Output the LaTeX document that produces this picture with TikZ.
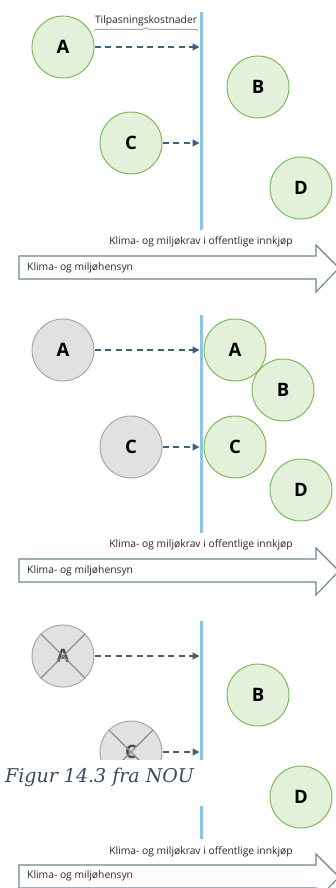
\documentclass[tikz,border=0pt]{standalone}
\usepackage{fontspec}
\setsansfont{Open Sans}
\newfontfamily\capfont{DejaVu Serif}
\usetikzlibrary{arrows.meta,decorations.pathreplacing}
\definecolor{grnfill}{HTML}{E3F1DA}
\definecolor{grnline}{HTML}{7DBA5B}
\definecolor{gryfill}{HTML}{E1E1E1}
\definecolor{gryline}{HTML}{A8A8A8}
\definecolor{wallblue}{HTML}{8DC3E6}
\definecolor{dashblue}{HTML}{3E617C}
\definecolor{bigarrow}{HTML}{6C8596}
\definecolor{captext}{HTML}{3A4A60}
\begin{document}
\begin{tikzpicture}[x=1pt,y=-1pt,
  firm/.style={circle,minimum size=62pt,inner sep=0pt,line width=1pt,
    font=\sffamily\bfseries\fontsize{18.5}{18.5}\selectfont},
  green firm/.style={firm,draw=grnline,fill=grnfill},
  grey firm/.style={firm,draw=gryline,fill=gryfill},
  wall/.style={wallblue,line width=3pt},
  move/.style={dashblue,line width=1.4pt,dash pattern=on 6pt off 4.5pt,
    -{Triangle[length=7pt,width=7pt]},shorten >=1.5pt},
  cross/.style={gryline!85!black,line width=1.3pt},
  label text/.style={text=black!85,font=\sffamily\fontsize{10.3}{12}\selectfont,inner sep=0pt},
  hensyn/.style={draw=bigarrow,line width=1.1pt,fill=white}]
  \useasboundingbox (0,0) rectangle (336,888);

  % panel 1
  \coordinate (top1) at (201,12);
  \coordinate (bot1) at (201,230);
  \draw [wall] (top1) -- (bot1);
  \node [green firm] (a1) at (63,47) {A};
  \node [green firm] (b1) at (258,87) {B};
  \node [green firm] (c1) at (131,143) {C};
  \node [green firm] (d1) at (301,188) {D};
  \draw [move] (a1.east) -- (a1 -| top1);
  \draw [move] (c1.east) -- (c1 -| top1);
  \coordinate (br1) at (94,31);
  \coordinate (br2) at (198,31);
  \draw [bigarrow,line width=0.6pt,decorate,decoration={brace,amplitude=3.5pt}]
    (br1) -- (br2) node [label text,midway,above=5pt] (cost) {Tilpasningskostnader};
  \node [label text] (krav1) at (201,242) {Klima- og miljøkrav i offentlige innkjøp};
  \draw [hensyn] (19,256) -- (316,256) -- (316,245) -- (339,268) -- (316,292)
    -- (316,279) -- (19,279) -- cycle;
  \node [label text,anchor=west] (hen1) at (27,267.5) {Klima- og miljøhensyn};

  % panel 2
  \begin{scope}[shift={(0,303)}]
    \coordinate (top2) at (201,12);
    \coordinate (bot2) at (201,230);
    \draw [wall] (top2) -- (bot2);
    \node [grey firm] (a2) at (63,47) {A};
    \node [grey firm] (c2) at (131,144) {C};
    \node [green firm] (a2n) at (235,47) {A};
    \node [green firm] (b2) at (283,87) {B};
    \node [green firm] (c2n) at (235,144) {C};
    \node [green firm] (d2) at (301,187) {D};
    \draw [move] (a2.east) -- (a2 -| top2);
    \draw [move] (c2.east) -- (c2 -| top2);
    \node [label text] (krav2) at (201,242) {Klima- og miljøkrav i offentlige innkjøp};
    \draw [hensyn] (19,256) -- (316,256) -- (316,245) -- (339,268) -- (316,292)
      -- (316,279) -- (19,279) -- cycle;
    \node [label text,anchor=west] (hen2) at (27,267.5) {Klima- og miljøhensyn};
  \end{scope}

  % panel 3
  \begin{scope}[shift={(0,609)}]
    \coordinate (top3) at (201,12);
    \coordinate (bot3) at (201,230);
    \draw [wall] (top3) -- (bot3);
    \node [grey firm,text=black!70] (a3) at (63,47) {A};
    \node [grey firm,text=black!70] (c3) at (131,143) {C};
    \draw [cross] (a3.north west) -- (a3.south east) (a3.north east) -- (a3.south west);
    \draw [cross] (c3.north west) -- (c3.south east) (c3.north east) -- (c3.south west);
    \node [green firm] (b3) at (258,86) {B};
    \node [green firm] (d3) at (301,188) {D};
    \draw [move] (a3.east) -- (a3 -| top3);
    \draw [move] (c3.east) -- (c3 -| top3);
    \node [label text] (krav3) at (201,243) {Klima- og miljøkrav i offentlige innkjøp};
    \draw [hensyn] (19,256) -- (316,256) -- (316,245) -- (339,268) -- (316,292)
      -- (316,279) -- (19,279) -- cycle;
    \node [label text,anchor=west] (hen3) at (27,266.5) {Klima- og miljøhensyn};
    % caption over the picture
    \fill [white] (0,151) rectangle (205,197);
    \node [anchor=west,inner sep=0pt,text=captext,
      font=\capfont\itshape\fontsize{19}{19}\selectfont] (cap) at (5,168) {Figur 14.3 fra NOU};
  \end{scope}
\end{tikzpicture}
\end{document}
